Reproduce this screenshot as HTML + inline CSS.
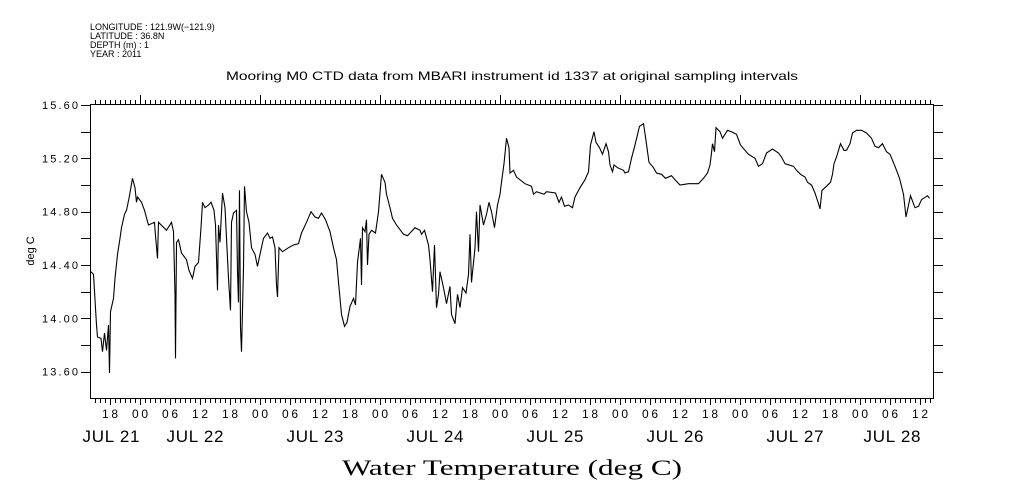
<!DOCTYPE html>
<html><head><meta charset="utf-8"><style>
html,body{margin:0;padding:0;background:#fff;}
svg{display:block;font-family:"Liberation Sans",sans-serif;}
</style></head><body>
<svg id="chart" width="1009" height="504" viewBox="0 0 1009 504" xmlns="http://www.w3.org/2000/svg">
<g font-size="9" fill="#000">
<text x="90" y="30">LONGITUDE : 121.9W(−121.9)</text>
<text x="90" y="39">LATITUDE : 36.8N</text>
<text x="90" y="48">DEPTH (m) : 1</text>
<text x="90" y="57">YEAR : 2011</text>
</g>
<text x="512" y="80" font-size="12" text-anchor="middle" textLength="572" lengthAdjust="spacingAndGlyphs">Mooring M0 CTD data from MBARI instrument id 1337 at original sampling intervals</text>
<rect x="90.5" y="104.5" width="843" height="294" fill="none" stroke="#000" stroke-width="1"/>
<g id="ticks" stroke="#000" stroke-width="1"></g>
<g id="labels" fill="#000"></g>
<text transform="translate(34,251) rotate(-90)" font-size="11" text-anchor="middle">deg C</text>
<text x="512" y="475" font-family="'Liberation Serif',serif" font-size="22" text-anchor="middle" textLength="340" lengthAdjust="spacingAndGlyphs">Water Temperature (deg C)</text>
<path id="series" fill="none" stroke="#000" stroke-width="1.1"/>
</svg>
<script>
const hours=[-9.8,-9.3,-8.7,-8.5,-7.8,-7.5,-7.1,-6.7,-6.3,-6.1,-5.9,-5.3,-5.0,-4.5,-4.0,-3.7,-3.1,-2.7,-2.2,-1.5,-1.0,-0.7,-0.5,0.3,0.9,1.7,2.9,3.1,3.5,3.7,5.3,6.3,6.7,7.0,7.1,7.3,7.7,8.3,9.3,9.8,10.5,11.0,11.7,12.2,12.5,13.0,13.7,14.2,14.8,15.1,15.5,15.7,16.0,16.2,16.5,17.0,17.7,18.1,18.3,18.7,19.3,19.5,19.7,19.9,20.1,20.3,20.7,20.9,21.3,21.8,22.3,23.0,23.5,24.0,24.7,25.5,26.0,26.5,27.0,27.3,27.5,27.8,28.5,29.7,30.7,31.7,32.3,33.3,34.2,35.0,35.7,36.3,37.1,38.0,38.7,39.3,39.8,40.3,40.9,41.4,42.0,42.7,43.1,43.5,44.1,44.3,44.5,45.0,45.3,45.5,45.8,46.3,47.1,47.7,48.3,49.0,49.3,50.0,50.5,51.3,52.7,53.5,55.0,56.0,56.3,56.9,57.7,58.0,58.5,58.9,59.3,59.7,60.0,60.7,61.3,62.0,62.3,63.0,63.5,64.0,64.5,65.2,65.7,66.0,66.3,67.0,67.3,67.7,68.0,68.7,69.3,69.8,70.3,70.9,71.5,72.0,72.3,72.8,73.3,73.8,74.0,74.7,75.3,77.0,78.3,78.7,79.3,80.8,81.3,83.1,83.8,84.3,84.9,85.7,86.5,87.0,88.0,89.0,89.7,90.1,90.8,91.2,91.9,92.5,93.2,93.7,94.0,94.5,94.8,95.5,96.7,97.0,97.7,98.3,99.0,99.9,100.7,101.1,101.8,102.7,103.3,104.3,105.1,106.3,107.0,108.0,109.7,111.7,112.7,113.5,114.0,114.3,114.5,114.9,115.2,116.0,116.5,117.5,118.3,119.3,120.1,121.0,121.7,123.0,123.7,124.5,125.3,126.5,127.7,128.3,129.0,130.7,131.3,132.1,133.0,133.5,134.3,135.0,135.7,136.0,136.4,137.3,138.1,138.5,138.8,139.3,140.1,140.8,141.3,142.0,142.5,143.3,144.3,145.3,146.3,147.0,147.7,148.5,149.3,150.0,151.0,151.9,152.7,153.2,154.1,155.0,155.7,156.3,157.5,157.9];
const temps=[14.35,14.33,13.95,13.86,13.85,13.75,13.89,13.76,13.95,13.59,14.05,14.15,14.30,14.48,14.60,14.68,14.78,14.81,14.90,15.05,14.98,14.87,14.91,14.87,14.81,14.70,14.72,14.62,14.45,14.72,14.66,14.72,14.65,14.18,13.70,14.57,14.59,14.49,14.44,14.36,14.30,14.39,14.42,14.68,14.87,14.83,14.85,14.87,14.81,14.70,14.21,14.70,14.57,14.72,14.94,14.83,14.30,14.06,14.72,14.79,14.81,14.35,14.12,14.96,13.93,13.75,14.38,14.99,14.80,14.72,14.53,14.48,14.39,14.48,14.60,14.64,14.60,14.61,14.53,14.25,14.16,14.53,14.50,14.53,14.55,14.56,14.64,14.72,14.80,14.76,14.75,14.79,14.74,14.65,14.53,14.44,14.23,14.03,13.94,13.97,14.09,14.15,14.10,14.42,14.60,14.25,14.68,14.65,14.74,14.40,14.63,14.66,14.64,14.80,15.08,15.02,14.93,14.83,14.75,14.70,14.63,14.62,14.68,14.66,14.63,14.66,14.55,14.44,14.20,14.55,14.08,14.18,14.35,14.23,14.11,14.24,14.03,13.96,14.18,14.08,14.23,14.19,14.33,14.63,14.27,14.53,14.80,14.50,14.85,14.70,14.78,14.87,14.80,14.68,14.85,14.93,15.02,15.16,15.35,15.28,15.09,15.11,15.06,15.01,14.99,14.93,14.95,14.93,14.95,14.94,14.87,14.91,14.84,14.85,14.83,14.91,14.98,15.04,15.10,15.30,15.40,15.32,15.28,15.23,15.31,15.25,15.15,15.10,15.15,15.13,15.11,15.09,15.10,15.20,15.30,15.44,15.46,15.36,15.17,15.13,15.09,15.08,15.05,15.07,15.04,15.00,15.01,15.01,15.05,15.09,15.15,15.24,15.31,15.25,15.43,15.40,15.35,15.41,15.40,15.38,15.30,15.26,15.23,15.20,15.14,15.16,15.24,15.27,15.24,15.21,15.16,15.14,15.11,15.08,15.06,15.02,15.00,14.94,14.86,14.82,14.96,14.99,15.02,15.08,15.16,15.21,15.31,15.26,15.26,15.31,15.39,15.41,15.41,15.39,15.35,15.29,15.28,15.31,15.25,15.23,15.14,15.05,14.93,14.76,14.92,14.83,14.84,14.89,14.92,14.90];
const yTickLabels=["15.60","15.20","14.80","14.40","14.00","13.60"];
const hourLabels=["18","00","06","12","18","00","06","12","18","00","06","12","18","00","06","12","18","00","06","12","18","00","06","12","18","00","06","12"];
const dayLabels=["JUL 21","JUL 22","JUL 23","JUL 24","JUL 25","JUL 26","JUL 27","JUL 28"];

const X0=140, PXH=5, Y0=105, YMAX=15.6, PXV=133.35;
const xs=h=>X0+h*PXH;
const ys=v=>Y0+(YMAX-v)*PXV;
const NS="http://www.w3.org/2000/svg";
const tk=document.getElementById('ticks'), lb=document.getElementById('labels');
function line(x1,y1,x2,y2){const l=document.createElementNS(NS,'line');l.setAttribute('x1',x1);l.setAttribute('y1',y1);l.setAttribute('x2',x2);l.setAttribute('y2',y2);tk.appendChild(l);return l;}
function txt(x,y,s,size,anchor){const t=document.createElementNS(NS,'text');t.setAttribute('x',x);t.setAttribute('y',y);t.setAttribute('font-size',size);t.setAttribute('text-anchor',anchor);t.textContent=s;lb.appendChild(t);return t;}
for(let h=-9;h<=158;h++){
  const x=Math.round(xs(h))+0.5;
  const six=((h%6)+6)%6===0, day=((h%24)+24)%24===0;
  const b=line(x,398,x,six?405:403);
  
  
  const t=line(x,104,x,day?95:100);
  
  
}
for(let i=0;i<=10;i++){
  const v=15.6-i*0.2, y=Math.round(ys(v))+0.5;
  const a=line(81,y,90,y);
  
  
  const b=line(934,y,943,y);
  
  
}
yTickLabels.forEach((s,i)=>{
  const t=txt(78,ys(parseFloat(s))+4,s,11,'end');
  t.setAttribute('textLength','36');
  
  
});
hourLabels.forEach((s,i)=>{
  const h=-6+i*6;
  const t=txt(xs(h),418,s,12,'middle');
  t.setAttribute('textLength','16');
  
  
});
dayLabels.forEach((s,i)=>{
  let x=xs(-12+i*24)-5;
  if(x<111)x=111;
  if(x>892)x=892;
  const t=txt(x,442,s,17,'middle');
  t.setAttribute('textLength','57');
  
  
});
let d='';
hours.forEach((h,i)=>{d+=(i?'L':'M')+xs(h).toFixed(1)+' '+ys(temps[i]).toFixed(1);});
document.getElementById('series').setAttribute('d',d);
</script>
</body></html>
